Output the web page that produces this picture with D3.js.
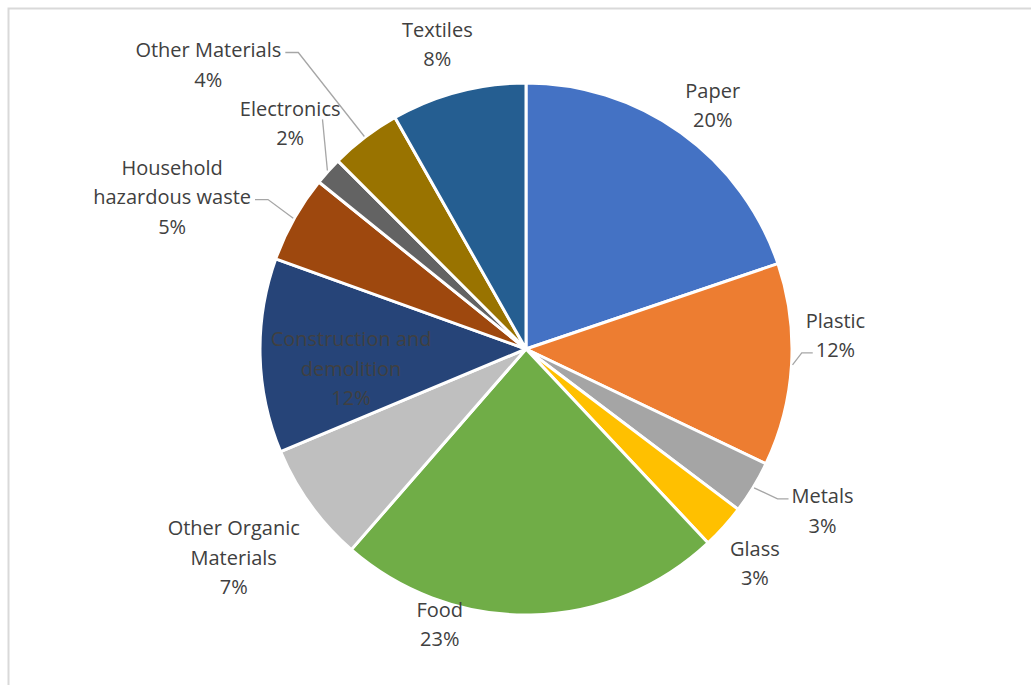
<!DOCTYPE html>
<html lang="en">
    <head>
        <meta charset="utf-8">
        <title>Waste Pie</title>
        <script src="https://d3js.org/d3.v7.min.js"></script>
        <style type="text/css">
            body { margin: 0; background: #ffffff; }
            .label text {
                font-family: "Open Sans", sans-serif;
                font-size: 20px;
                fill: #404040;
            }
            .leader {
                fill: none;
                stroke: #a6a6a6;
                stroke-width: 1.3px;
            }
        </style>
    </head>
    <body>
        <script type="text/javascript">

            //data - clockwise from 12 o'clock
            const categories = ["Paper", "Plastic", "Metals", "Glass", "Food", "Other Organic Materials",
                                "Construction and demolition", "Household hazardous waste", "Electronics",
                                "Other Materials", "Textiles"];
            const shares = [19.8, 12.3, 3.2, 2.7, 23.4, 7.3, 11.8, 5.3, 1.7, 4.3, 8.2];
            const colors = ["#4472c4", "#ed7d31", "#a5a5a5", "#ffc000", "#70ad47", "#bfbfbf",
                            "#264478", "#9e480e", "#636363", "#997300", "#255e91"];
            //how each label wraps
            const labelLines = [["Paper"], ["Plastic"], ["Metals"], ["Glass"], ["Food"], ["Other Organic", "Materials"],
                                ["Construction and", "demolition"], ["Household", "hazardous waste"], ["Electronics"],
                                ["Other Materials"], ["Textiles"]];

            const w = 1031;
            const h = 685;
            const cx = 526, cy = 349;
            const r = 266;
            const lineH = 29.5;
            const pct = d3.format(".0%");
            const total = d3.sum(shares);

            //label nudges from the default spot (outside ring), by index
            const nudge = [[9, 4], [5, -32], [36, 3], [2, 10], [-92, -30], [-45, 30],
                           [1, 15], [-88, -3], [-9, -22], [-133, -42], [-11, -10]];
            const inside = { 6: true };
            //leader lines: which side of which text line they reach
            const leaders = { 1: ["left", 1], 2: ["left", 0], 7: ["right", 1], 8: ["bottom", 0], 9: ["right", 0] };

            const svg = d3.select("body")
                    .append("svg")
                    .attr("width", w)
                    .attr("height", h);

            //chart frame
            svg.append("rect")
                .attr("x", 8.5).attr("y", 8.5)
                .attr("width", w + 20).attr("height", h + 20)
                .attr("fill", "none")
                .attr("stroke", "#d9d9d9")
                .attr("stroke-width", 2);

            const pie = d3.pie().sort(null).value(d => d);
            const arcs = pie(shares);

            const arc = d3.arc().innerRadius(0).outerRadius(r);
            const labelArc = d3.arc().innerRadius(305).outerRadius(305);
            const innerArc = d3.arc().innerRadius(176).outerRadius(176);
            const edgeArc = d3.arc().innerRadius(r + 1).outerRadius(r + 1);

            const g = svg.append("g").attr("transform", "translate(" + cx + "," + cy + ")");

            g.selectAll("path.slice")
                .data(arcs)
                .enter()
                .append("path")
                .attr("class", "slice")
                .attr("d", arc)
                .attr("fill", (d, i) => colors[i])
                .attr("stroke", "#ffffff")
                .attr("stroke-width", 3)
                .attr("stroke-linejoin", "round");

            //labels
            arcs.forEach((d, i) => {
                const base = inside[i] ? innerArc.centroid(d) : labelArc.centroid(d);
                const lx = base[0] + nudge[i][0];
                const ly = base[1] + nudge[i][1];
                const lines = labelLines[i].concat([pct(shares[i] / total)]);
                const top = ly - (lines.length - 1) * lineH / 2;

                const lg = g.append("g").attr("class", "label");
                const texts = lines.map((t, k) => lg.append("text")
                    .attr("x", lx)
                    .attr("y", top + k * lineH)
                    .attr("text-anchor", "middle")
                    .attr("dominant-baseline", "central")
                    .text(t));

                if (leaders[i]) {
                    const side = leaders[i][0];
                    const k = leaders[i][1];
                    const tw = texts[k].node().getComputedTextLength();
                    const yk = top + k * lineH + 3;
                    const p0 = edgeArc.centroid(d);
                    let pts;
                    if (side === "right") {
                        const ex = lx + tw / 2 + 4;
                        pts = [[ex, yk], [ex + 13, yk], p0];
                    } else if (side === "left") {
                        const ex = lx - tw / 2 - 3;
                        pts = [[ex, yk], [ex - 11, yk], p0];
                    } else {
                        pts = [[lx + tw / 2 - 18, yk + 8], p0];
                    }
                    g.append("path")
                        .attr("class", "leader")
                        .attr("d", d3.line()(pts));
                }
            });

        </script>
    </body>
</html>
